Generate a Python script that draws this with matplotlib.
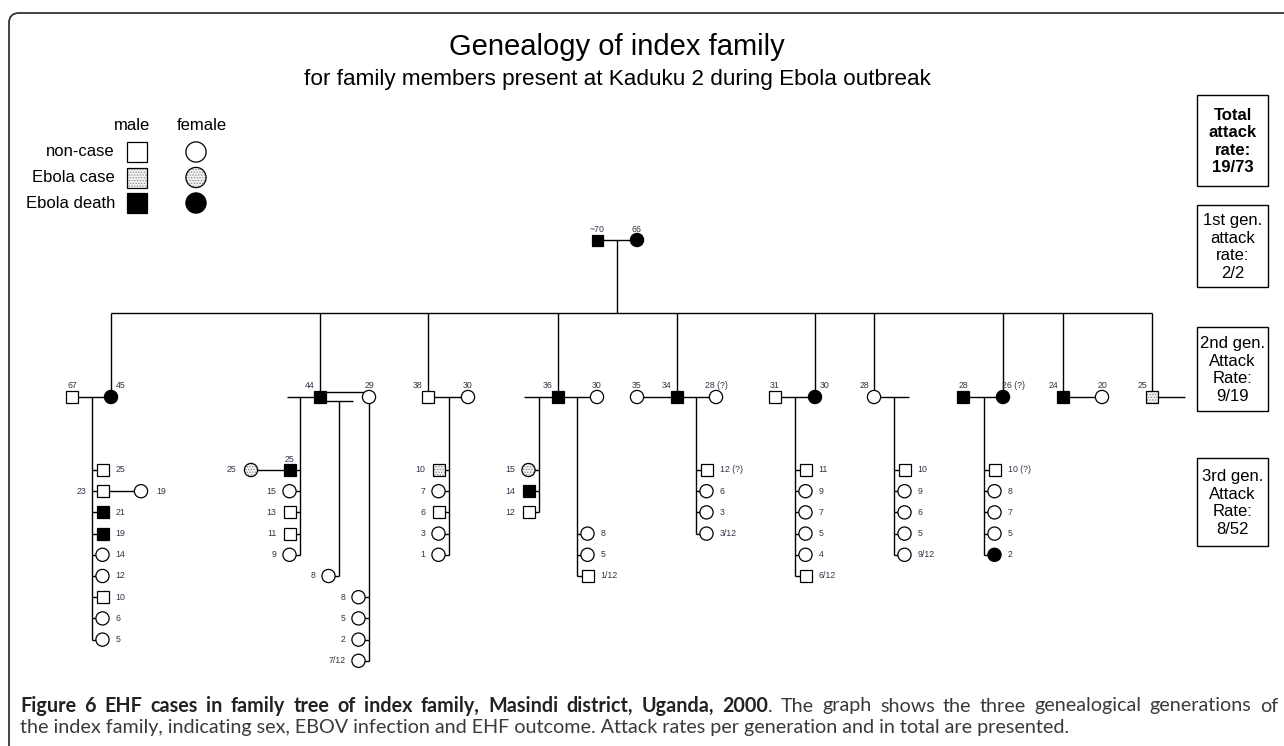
import numpy as np
import matplotlib.pyplot as plt
from matplotlib.patches import Rectangle, Circle, FancyBboxPatch

plt.rcParams['font.family'] = ['Liberation Sans', 'DejaVu Sans']
plt.rcParams['hatch.linewidth'] = 0.6

# ---------------- data ----------------
title = 'Genealogy of index family'
subtitle = 'for family members present at Kaduku 2 during Ebola outbreak'

# person codes: sex (m/f) + status (0 non-case, 1 Ebola case, 2 Ebola death)
legend_rows = ['non-case', 'Ebola case', 'Ebola death']

founders = ['~70', '66']
founders_code = ['m2', 'f2']

# second generation households (blood relative + spouses)
gen2_labels = [['67', '45'], ['44', '29'], ['38', '30'], ['36', '30'],
               ['35', '34', '28 (?)'], ['31', '30'], ['28'], ['28', '26 (?)'],
               ['24', '20'], ['25']]
gen2_codes = [['m0', 'f2'], ['m2', 'f0'], ['m0', 'f0'], ['m2', 'f0'],
              ['f0', 'm2', 'f0'], ['m0', 'f2'], ['f0'], ['m2', 'f2'],
              ['m2', 'f0'], ['m1']]
gen2_blood = [1, 0, 0, 0, 1, 1, 0, 1, 0, 0]

# third generation sibships
kids_a = ['25', '23', '21', '19', '14', '12', '10', '6', '5']
kids_a_code = ['m0', 'm0', 'm2', 'm2', 'f0', 'f0', 'm0', 'f0', 'f0']
kids_b1 = ['25', '15', '13', '11', '9']
kids_b1_code = ['m2', 'f0', 'm0', 'm0', 'f0']
kids_b2 = ['8']
kids_b2_code = ['f0']
kids_b3 = ['8', '5', '2', '7/12']
kids_b3_code = ['f0', 'f0', 'f0', 'f0']
kids_c = ['10', '7', '6', '3', '1']
kids_c_code = ['m1', 'f0', 'm0', 'f0', 'f0']
kids_d1 = ['15', '14', '12']
kids_d1_code = ['f1', 'm2', 'm0']
kids_d2 = ['8', '5', '1/12']
kids_d2_code = ['f0', 'f0', 'm0']
kids_e = ['12 (?)', '6', '3', '3/12']
kids_e_code = ['m0', 'f0', 'f0', 'f0']
kids_f = ['11', '9', '7', '5', '4', '6/12']
kids_f_code = ['m0', 'f0', 'f0', 'f0', 'f0', 'm0']
kids_g = ['10', '9', '6', '5', '9/12']
kids_g_code = ['m0', 'f0', 'f0', 'f0', 'f0']
kids_h = ['10 (?)', '8', '7', '5', '2']
kids_h_code = ['m0', 'f0', 'f0', 'f0', 'f2']

# spouses of third generation
spouse_a = ('19', 'f0')   # wife of the 23 year old
spouse_b = ('25', 'f1')   # wife of the 25 year old

rate_titles = ['Total\nattack\nrate:', '1st gen.\nattack\nrate:',
               '2nd gen.\nAttack\nRate:', '3rd gen.\nAttack\nRate:']
rate_values = ['19/73', '2/2', '9/19', '8/52']

cap_bold = 'Figure 6 EHF cases in family tree of index family, Masindi district, Uganda, 2000'
cap_line1 = '. The graph shows the three genealogical generations of'
cap_line2 = ('the index family, indicating sex, EBOV infection and EHF outcome. '
             'Attack rates per generation and in total are presented.')

# ---------------- drawing ----------------
W, H = 1284, 746
fig = plt.figure(figsize=(W / 100, H / 100), dpi=100)
ax = fig.add_axes([0, 0, 1, 1])
ax.set_xlim(0, W)
ax.set_ylim(H, 0)
ax.axis('off')

LW = 1.0
LAB = '#333348'
FS = 6.3


def line(xs, ys):
    ax.plot(xs, ys, color='black', lw=LW, zorder=1, solid_capstyle='butt')


def person(x, y, code, s=12):
    sex, st = code[0], code[1]
    if sex == 'm':
        mk = lambda: Rectangle((x - s / 2, y - s / 2), s, s)
    else:
        mk = lambda: Circle((x, y), s / 2 + 0.6)
    if st == '1':
        p = mk()
        p.set(facecolor='#f2f2f2', edgecolor='#8a8a8a', lw=0, hatch='......', zorder=3)
        ax.add_patch(p)
        p = mk()
        p.set(facecolor='none', edgecolor='black', lw=0.9, zorder=4)
    else:
        p = mk()
        p.set(facecolor='black' if st == '2' else 'white', edgecolor='black', lw=0.9, zorder=3)
    ax.add_patch(p)


def label(x, y, s, ha='center', fs=FS):
    ax.text(x, y, s, ha=ha, va='center', fontsize=fs, color=LAB, zorder=5)


# border
ax.add_patch(FancyBboxPatch((9, 13), 1400, 800, boxstyle='round,pad=0,rounding_size=10',
                            fill=False, ec='#333333', lw=1.3))

ax.text(617, 47, title, ha='center', va='center', fontsize=21)
ax.text(617, 80, subtitle, ha='center', va='center', fontsize=16.2)

# legend
ax.text(132, 126, 'male', ha='center', va='center', fontsize=12)
ax.text(202, 126, 'female', ha='center', va='center', fontsize=12)
for i, name in enumerate(legend_rows):
    yy = 152 + i * 25.5
    ax.text(115, yy, name, ha='right', va='center', fontsize=12)
    person(137, yy, 'm' + str(i), s=20)
    person(196, yy, 'f' + str(i), s=19)

# attack rate boxes
box_y = [(95, 186), (205, 287), (327, 411), (458, 546)]
for (y0, y1), t, v, k in zip(box_y, rate_titles, rate_values, range(4)):
    ax.add_patch(Rectangle((1197, y0), 71, y1 - y0, fill=False, ec='black', lw=1.0))
    ax.text(1232.5, (y0 + y1) / 2 + 1, t + '\n' + v, ha='center', va='center',
            fontsize=12, linespacing=1.22, fontweight='bold' if k == 0 else 'normal')

# founders
Y1, YS, Y2 = 240, 313, 397
line([597, 637], [Y1, Y1])
line([617, 617], [Y1, YS])
person(597, Y1, founders_code[0], s=11)
person(637, Y1, founders_code[1], s=12)
label(597, 229, founders[0])
label(637, 229, founders[1])

# second generation
hx = [[72, 111], [320, 369], [428, 468], [558, 597], [637, 677, 716],
      [775, 815], [874], [963, 1003], [1063, 1102], [1152]]
drops = [hx[i][gen2_blood[i]] for i in range(len(hx))]
line([drops[0], drops[-1]], [YS, YS])
for d in drops:
    line([d, d], [YS, Y2])

# household connecting lines
line([72, 111], [Y2, Y2])
line([287, 320], [Y2, Y2])
line([320, 369], [392, 392])
line([320, 353], [401, 401])
line([428, 468], [Y2, Y2])
line([524, 597], [Y2, Y2])
line([637, 716], [Y2, Y2])
line([775, 815], [Y2, Y2])
line([874, 909], [Y2, Y2])
line([963, 1003], [Y2, Y2])
line([1063, 1102], [Y2, Y2])
line([1152, 1185], [Y2, Y2])

for i, xs in enumerate(hx):
    n = len(xs)
    for j, x in enumerate(xs):
        person(x, Y2, gen2_codes[i][j])
        off = 0
        if j == gen2_blood[i]:
            off = 10 if (n > 1 and j == n - 1) else -10
        label(x + off, 386, gen2_labels[i][j])

# third generation
ROW0, DY = 470, 21.2
sibships = [
    (kids_a, kids_a_code, 92, Y2, 0, 1),
    (kids_b1, kids_b1_code, 300, Y2, 0, -1),
    (kids_b2, kids_b2_code, 339, 401, 5, -1),
    (kids_b3, kids_b3_code, 369, Y2, 6, -1),
    (kids_c, kids_c_code, 449, Y2, 0, -1),
    (kids_d1, kids_d1_code, 539, Y2, 0, -1),
    (kids_d2, kids_d2_code, 577, Y2, 3, 1),
    (kids_e, kids_e_code, 696, Y2, 0, 1),
    (kids_f, kids_f_code, 795, Y2, 0, 1),
    (kids_g, kids_g_code, 894, Y2, 0, 1),
    (kids_h, kids_h_code, 984, Y2, 0, 1),
]
for k, (labs, codes, dx, top, r0, side) in enumerate(sibships):
    ys = [ROW0 + (r0 + i) * DY for i in range(len(labs))]
    line([dx, dx], [top, ys[-1]])
    kx = dx + side * 10.5
    for i, (lab, code, yy) in enumerate(zip(labs, codes, ys)):
        line([dx, kx], [yy, yy])
        person(kx, yy, code)
        if k == 0 and i == 1:
            # married son with wife
            label(86, yy, lab, ha='right')
            line([kx, 141], [yy, yy])
            person(141, yy, spouse_a[1])
            label(156, yy, spouse_a[0], ha='left')
        elif k == 1 and i == 0:
            label(kx, yy - 11, lab)
            line([251, kx], [yy, yy])
            person(251, yy, spouse_b[1])
            label(236, yy, spouse_b[0], ha='right')
        elif side > 0:
            label(kx + 13, yy, lab, ha='left')
        else:
            label(kx - 13, yy, lab, ha='right')

# caption, first line justified
cap_font = ['Lato', 'DejaVu Sans']
renderer = fig.canvas.get_renderer()


def text_w(s, bold, fs):
    t = ax.text(0, 0, s, fontsize=fs, family=cap_font,
                fontweight='bold' if bold else 'normal')
    w = t.get_window_extent(renderer).width
    t.remove()
    return w


cfs = 10 * 1051 / text_w(cap_line2, False, 10)
units = [[(w, True)] for w in cap_bold.split(' ')]
units[-1].append(('.', False))
units += [[(w, False)] for w in cap_line1[2:].split(' ')]
uw = [sum(text_w(s, b, cfs) for s, b in u) for u in units]
gap = (1258 - sum(uw)) / (len(units) - 1)
x = 20
for u, w in zip(units, uw):
    xx = x
    for s, b in u:
        ax.text(xx, 706, s, fontsize=cfs, family=cap_font, ha='left', va='center',
                fontweight='bold' if b else 'normal',
                color='#222222' if b else '#3a3a3a')
        xx += text_w(s, b, cfs)
    x += w + gap
ax.text(20, 728, cap_line2, fontsize=cfs, family=cap_font, ha='left', va='center',
        color='#3a3a3a')

fig.savefig('out.png', dpi=100)
